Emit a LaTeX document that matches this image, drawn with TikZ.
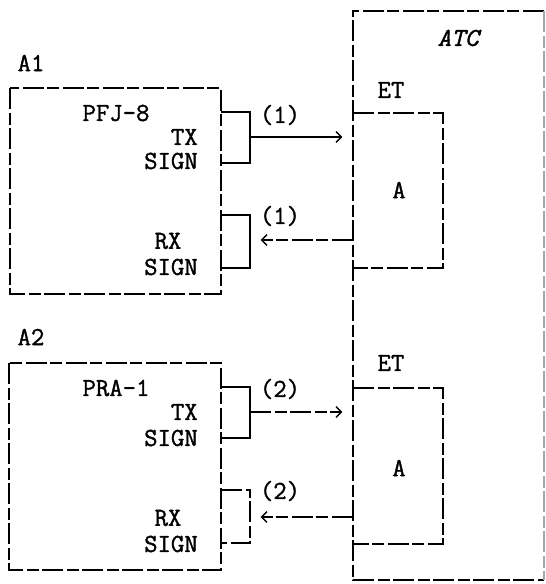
\documentclass[tikz,border=0pt]{standalone}
\usepackage{fontspec}
\newfontfamily\scanfont[FakeBold=1.3]{Latin Modern Mono}
\usetikzlibrary{arrows.meta}

\begin{document}
\begin{tikzpicture}[x=0.75pt,y=0.75pt,yscale=-1,xscale=1,
  every node/.style={font=\fontsize{19.5}{22}\selectfont\scanfont, inner sep=0pt},
  scan/.style={line width=1pt, dash pattern={on 16pt off 3pt on 9pt off 2pt}},
  sig/.style={line width=1pt, -{Straight Barb[length=4pt,width=8pt]}, shorten >=8pt}]
\useasboundingbox (0,0) rectangle (545,584);

%Shape: ATC frame
\draw [scan] (544,11) -- (353,11) -- (353,580) -- (544,580) ;
\draw [scan, draw=black!35] (544,11) -- (544,580) ;
%Shape: A1 box
\draw [scan] (10,88) rectangle (221,294) ;
%Shape: A2 box
\draw [scan] (9,363) rectangle (221,570) ;
%Shape: ET box upper
\draw [scan] (353,113) -- (443,113) -- (443,268) -- (353,268) ;
%Shape: ET box lower
\draw [scan] (353,388) -- (443,388) -- (443,544) -- (353,544) ;

%Coordinates of the wires
\coordinate (tx1a) at (221,112) ; \coordinate (tx1b) at (221,163) ; \coordinate (tx1o) at (250,137) ;
\coordinate (rx1a) at (221,215) ; \coordinate (rx1b) at (221,268) ; \coordinate (rx1o) at (250,240) ;
\coordinate (tx2a) at (221,387) ; \coordinate (tx2b) at (221,438) ; \coordinate (tx2o) at (250,412) ;
\coordinate (rx2a) at (221,490) ; \coordinate (rx2b) at (221,543) ; \coordinate (rx2o) at (250,517) ;
\coordinate (et1in) at (353,137) ; \coordinate (et1out) at (353,240) ;
\coordinate (et2in) at (353,412) ; \coordinate (et2out) at (353,517) ;

%Brackets
\draw [line width=1pt] (tx1a) -| (tx1o) |- (tx1b) ;
\draw [line width=1pt] (rx1a) -| (rx1o) |- (rx1b) ;
\draw [line width=1pt] (tx2a) -| (tx2o) |- (tx2b) ;
\draw [scan] (rx2a) -| (rx2o) |- (rx2b) ;
%Signal lines
\draw [sig] (tx1o) -- (et1in) ;
\draw [sig, scan] (et1out) -- (rx1o) ;
\draw [sig, scan] (tx2o) -- (et2in) ;
\draw [sig, scan] (et2out) -- (rx2o) ;

% Text Node
\node (atc) at (458,38) {\itshape ATC} ;
% Text Node
\node (et1) at (391,90) {ET} ;
% Text Node
\node (a1) at (399,190) {A} ;
% Text Node
\node (et2) at (391,363) {ET} ;
% Text Node
\node (a2) at (399,468) {A} ;
% Text Node
\node (lA1) at (31,63) {A1} ;
% Text Node
\node (lA2) at (31,337) {A2} ;
% Text Node
\node (pfj) at (116,113) {PFJ-8} ;
% Text Node
\node (pra) at (116,388) {PRA-1} ;
% Text Node
\node [anchor=east] (tx1) at (198,137) {TX} ;
% Text Node
\node [anchor=east] (sign1) at (198,161) {SIGN} ;
% Text Node
\node (rx1) at (168,241) {RX} ;
% Text Node
\node [anchor=east] (sign2) at (198,267) {SIGN} ;
% Text Node
\node [anchor=east] (tx2) at (198,412) {TX} ;
% Text Node
\node [anchor=east] (sign3) at (198,438) {SIGN} ;
% Text Node
\node (rx2) at (168,518) {RX} ;
% Text Node
\node [anchor=east] (sign4) at (198,544) {SIGN} ;
% Text Node
\node (c1) at (280,115) {(1)} ;
% Text Node
\node (c2) at (280,216) {(1)} ;
% Text Node
\node (c3) at (280,389) {(2)} ;
% Text Node
\node (c4) at (280,491) {(2)} ;

\end{tikzpicture}
\end{document}
